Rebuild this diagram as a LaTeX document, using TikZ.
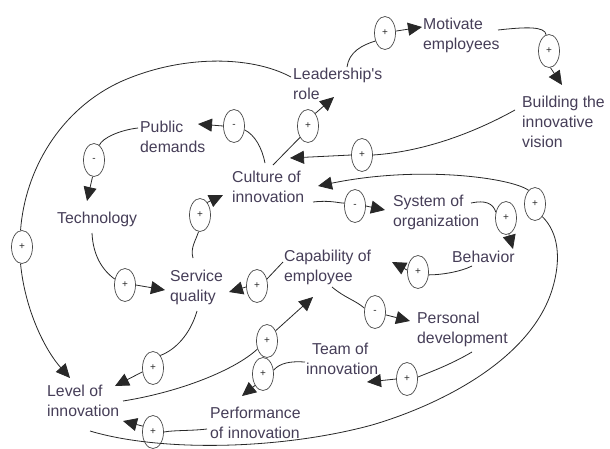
\documentclass[tikz,border=0pt]{standalone}
\usepackage{fontspec}
\setmainfont{Liberation Sans}
\usetikzlibrary{shapes.geometric,arrows.meta,calc}
\definecolor{txt}{RGB}{70,62,88}
\definecolor{ln}{RGB}{40,40,40}
\begin{document}
\begin{tikzpicture}[x=1pt,y=-1pt,
  lbl/.style={anchor=west,inner sep=0pt,align=left,text=txt,font=\fontsize{15.8}{20}\selectfont},
  sgn/.style={ellipse,draw=ln!85,line width=0.7pt,minimum width=21pt,minimum height=33pt,inner sep=0pt,font=\fontsize{10}{10}\selectfont,text=ln},
  con/.style={draw=ln,line width=0.8pt},
  arr/.style={con,-{Triangle[length=14pt,width=13pt]}}]
\fill[white] (0,0) rectangle (610,448);
\useasboundingbox (0,0) rectangle (610,448);

% text nodes
\node[lbl] (motiv) at (423,35) {Motivate\\employees};
\node[lbl] (lead) at (293,84) {Leadership\textquotesingle s\\role};
\node[lbl] (build) at (522,122) {Building the\\innovative\\vision};
\node[lbl] (public) at (140,137) {Public\\demands};
\node[lbl] (culture) at (232,187) {Culture of\\innovation};
\node[lbl] (tech) at (57,219) {Technology};
\node[lbl] (system) at (393,212) {System of\\organization};
\node[lbl] (behav) at (452,257) {Behavior};
\node[lbl] (capab) at (284,267) {Capability of\\employee};
\node[lbl] (service) at (170,287) {Service\\quality};
\node[lbl] (personal) at (417,329) {Personal\\development};
\node[lbl] (team) at (306,359) {\hspace*{6pt}Team of\\innovation};
\node[lbl] (level) at (47,401) {Level of\\innovation};
\node[lbl] (perf) at (210,423) {Performance\\of innovation};

% polarity ellipses
\node[sgn] (e1) at (385,33) {+};
\node[sgn] (e2) at (549,51) {+};
\node[sgn] (e3) at (308,126) {+};
\node[sgn] (e4) at (234,126) {-};
\node[sgn] (e5) at (94,160) {-};
\node[sgn] (e6) at (362,155) {+};
\node[sgn] (e7) at (355,206) {-};
\node[sgn] (e8) at (200,215) {+};
\node[sgn] (e9) at (535,204) {+};
\node[sgn] (e10) at (506,218) {+};
\node[sgn] (e11) at (418,272) {+};
\node[sgn] (e12) at (257,286) {+};
\node[sgn] (e13) at (375,312) {-};
\node[sgn] (e14) at (407,379) {+};
\node[sgn] (e15) at (267,341) {+};
\node[sgn] (e16) at (263,374) {+};
\node[sgn] (e17) at (153,368) {+};
\node[sgn] (e18) at (153,432) {+};
\node[sgn] (e19) at (22,247) {+};
\node[sgn] (e20) at (125,285) {+};

% 1 leadership -> motivate
\draw[con] ($(lead.west)+(54,-17)$) .. controls (349,52) and (362,45) .. (e1.220);
\draw[arr] (e1.10) -- ($(motiv.west)+(-1,-8)$);
% 2 motivate -> building
\draw[con] ($(motiv.west)+(75,-5)$) .. controls (525,27) and (545,26) .. (e2.100);
\draw[arr] (e2.275) -- ($(build.west)+(40,-37)$);
% 3 culture -> leadership
\draw[con] ($(culture.west)+(41,-22)$) -- (e3.235);
\draw[arr] (e3.60) -- ($(lead.west)+(41,13)$);
% 4 culture -> public
\draw[con] ($(culture.west)+(33,-24)$) .. controls (262,148) and (255,135) .. (e4.340);
\draw[arr] (e4.180) -- ($(public.west)+(58,-13)$);
% 5 public -> technology
\draw[con] ($(public.west)+(-2,-9)$) .. controls (120,130) and (102,138) .. (e5.70);
\draw[arr] (e5.265) -- ($(tech.west)+(30,-18)$);
% 6 building -> culture
\draw[con] ($(build.west)+(-7,-12)$) .. controls (470,135) and (420,152) .. (e6.0);
\draw[arr] (e6.180) -- ($(culture.west)+(58,-29)$);
% 7 culture -> system
\draw[con] ($(culture.west)+(81,15)$) .. controls (330,200) and (338,203) .. (e7.165);
\draw[arr] (e7.0) -- ($(system.west)+(-8,-2)$);
% 8 service -> culture
\draw[con] ($(service.west)+(23,-29)$) .. controls (190,248) and (196,240) .. (e8.265);
\draw[arr] (e8.60) -- ($(culture.west)+(-9,8)$);
% 9 level -> culture (outer loop)
\draw[con] ($(level.west)+(43,30)$) .. controls (160,452) and (280,450) .. (372,425)
  .. controls (440,405) and (530,360) .. (552,290)
  .. controls (562,258) and (558,232) .. (e9.300);
\draw[arr] (e9.115) .. controls (512,178) and (420,165) .. ($(culture.west)+(86,-1)$);
% 10 system -> behavior
\draw[con] ($(system.west)+(78,-9)$) .. controls (485,200) and (493,203) .. (e10.150);
\draw[arr] (e10.280) -- ($(behav.west)+(61,-8)$);
% 11 behavior -> capability
\draw[con] ($(behav.west)+(20,9)$) .. controls (460,272) and (440,275) .. (e11.345);
\draw[arr] (e11.170) -- ($(capab.west)+(108,-5)$);
% 12 capability -> service
\draw[con] ($(capab.west)+(-1,-5)$) -- (e12.35);
\draw[arr] (e12.185) -- ($(service.west)+(59,5)$);
% 13 capability -> personal
\draw[con] ($(capab.west)+(48,20)$) .. controls (345,298) and (355,300) .. (e13.160);
\draw[arr] (e13.345) -- ($(personal.west)+(-7,-8)$);
% 14 personal -> team
\draw[con] ($(personal.west)+(55,23)$) .. controls (450,365) and (430,372) .. (e14.10);
\draw[arr] (e14.180) -- ($(team.west)+(61,23)$);
% 15 level -> capability
\draw[con] ($(level.west)+(76,0)$) .. controls (180,392) and (235,370) .. (e15.220);
\draw[arr] (e15.50) -- ($(capab.west)+(29,30)$);
% 16 team -> performance
\draw[con] ($(team.west)+(-1,3)$) .. controls (290,361) and (280,363) .. (e16.20);
\draw[arr] (e16.235) -- ($(perf.west)+(32,-27)$);
% 17 service -> level
\draw[con] ($(service.west)+(27,24)$) .. controls (190,335) and (175,350) .. (e17.60);
\draw[arr] (e17.200) -- ($(level.west)+(68,-15)$);
% 18 performance -> level
\draw[con] ($(perf.west)+(-3,6)$) .. controls (190,431) and (175,430) .. (e18.0);
\draw[arr] (e18.150) -- ($(level.west)+(76,20)$);
% 19 leadership -> level (outer left loop)
\draw[con] ($(lead.west)+(-2,-7)$) .. controls (250,55) and (180,55) .. (120,82)
  .. controls (60,110) and (25,170) .. (e19.95);
\draw[arr] (e19.265) .. controls (25,310) and (45,350) .. ($(level.west)+(23,-23)$);
% 20 technology -> service
\draw[con] ($(tech.west)+(35,14)$) .. controls (93,255) and (102,270) .. (e20.150);
\draw[arr] (e20.0) -- ($(service.west)+(-5,3)$);
\end{tikzpicture}
\end{document}
